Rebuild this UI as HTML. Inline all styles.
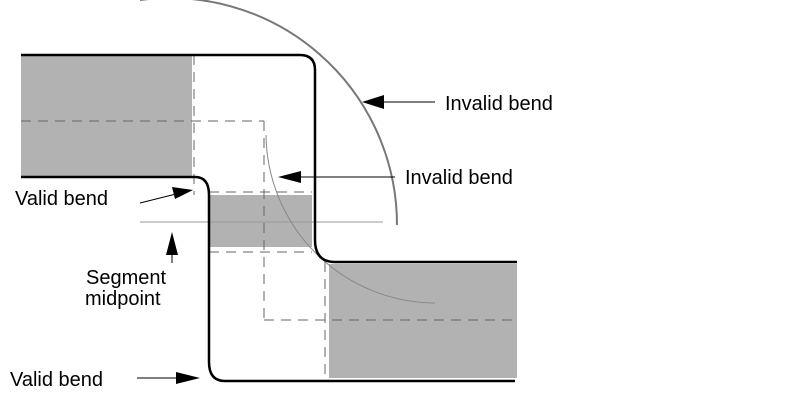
<!DOCTYPE html>
<html><head><style>
html,body{margin:0;padding:0;background:#fff;}
svg{display:block;}
text{font-family:"Liberation Sans",Arial,sans-serif;font-size:20px;fill:#000;}
</style></head><body>
<svg width="803" height="405" viewBox="0 0 803 405" xmlns="http://www.w3.org/2000/svg">
<rect x="21" y="55" width="171" height="122" fill="#b2b2b2"/>
<rect x="210" y="195" width="102" height="52" fill="#b2b2b2"/>
<rect x="329" y="264" width="188" height="114" fill="#b2b2b2"/>
<g stroke="#666" stroke-width="1" stroke-dasharray="10,7" fill="none">
<line x1="194" y1="55" x2="194" y2="195"/>
<line x1="21" y1="121" x2="264" y2="121"/>
<line x1="264" y1="121" x2="264" y2="320"/>
<line x1="264" y1="320" x2="517" y2="320"/>
<line x1="209" y1="192" x2="312" y2="192"/>
<line x1="209" y1="252" x2="312" y2="252"/>
<line x1="325" y1="262" x2="325" y2="380"/>
</g>
<line x1="140" y1="222" x2="383" y2="222" stroke="#999" stroke-width="1"/>
<path d="M140,0 A227,227 0 0 1 397,225" stroke="#777" stroke-width="2" fill="none"/>
<path d="M266,135 A170,170 0 0 0 435,303" stroke="#888" stroke-width="1" fill="none"/>
<g stroke="#000" stroke-width="2.5" fill="none">
<path d="M21,55 H300 Q315,55 315,70 V240 Q315,262 335,262 H517"/>
<path d="M21,177 H195 Q209,177 209,195 V362 Q209,381 225,381 H515"/>
</g>
<g stroke="#000" stroke-width="1">
<line x1="380" y1="102" x2="435" y2="102"/>
<line x1="295" y1="177" x2="395" y2="177"/>
<line x1="140" y1="203" x2="180" y2="193"/>
<line x1="172" y1="245" x2="172" y2="263"/>
<line x1="137" y1="378" x2="185" y2="378"/>
</g>
<g fill="#000">
<polygon points="362,102 384,95 384,109"/>
<polygon points="278,177 301,171 301,183"/>
<polygon points="193,190 172,187 175,199"/>
<polygon points="172,232 166,255 178,255"/>
<polygon points="200,378 176,372 176,384"/>
</g>
<text x="445" y="110">Invalid bend</text>
<text x="405" y="184">Invalid bend</text>
<text x="15" y="205">Valid bend</text>
<text x="86" y="284">Segment</text>
<text x="85" y="305">midpoint</text>
<text x="10" y="386">Valid bend</text>
</svg>
</body></html>
